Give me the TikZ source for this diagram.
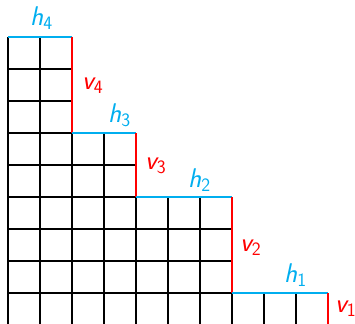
\documentclass[tikz,border=0pt]{standalone}
\definecolor{hblue}{RGB}{0,174,239}
\definecolor{vred}{RGB}{255,0,0}
\begin{document}
\begin{tikzpicture}[x=1pt,y=-1pt,
  gridline/.style={black,line width=1.2pt},
  hseg/.style={hblue,line width=2.6pt},
  vseg/.style={vred,line width=2.6pt},
  lab/.style={inner sep=0pt,anchor=base west,font=\fontsize{27}{30}\selectfont\sffamily},
  hlab/.style={lab,text=hblue},
  vlab/.style={lab,text=vred}]
\useasboundingbox (0,0) rectangle (355,323);
% grid: columns x=8+32k, rows y=37+32r, bottom cut at 323
\foreach \k/\t in {0/37,1/37,2/37,3/133,4/133,5/197,6/197,7/197,8/293,9/293,10/293}{
  \pgfmathsetmacro{\xx}{8+32*\k}
  \draw[gridline] (\xx,\t) -- (\xx,326);
}
\foreach \r/\e in {1/72,2/72,3/136,4/136,5/232,6/232,7/232,8/328}{
  \pgfmathsetmacro{\yy}{37+32*\r}
  \draw[gridline] (8,\yy) -- (\e,\yy);
}
% staircase corners
\coordinate (p0) at (8,37);
\coordinate (p1) at (72,37);
\coordinate (p2) at (72,133);
\coordinate (p3) at (136,133);
\coordinate (p4) at (136,197);
\coordinate (p5) at (232,197);
\coordinate (p6) at (232,293);
\coordinate (p7) at (328,293);
\coordinate (p8) at (328,326);
\draw[hseg] (p0) -- (p1);
\draw[vseg] (p1) -- (p2);
\draw[hseg] (p2) -- (p3);
\draw[vseg] (p3) -- (p4);
\draw[hseg] (p4) -- (p5);
\draw[vseg] (p5) -- (p6);
\draw[hseg] (p6) -- (p7);
\draw[vseg] (p7) -- (p8);
% labels
\node[hlab] (h4) at (30,26) {{\slshape h}\textsubscript{4}};
\node[vlab] (v4) at (82,90) {{\slshape v}\textsubscript{4}};
\node[hlab] (h3) at (108,122) {{\slshape h}\textsubscript{3}};
\node[vlab] (v3) at (145,169) {{\slshape v}\textsubscript{3}};
\node[hlab] (h2) at (188,187) {{\slshape h}\textsubscript{2}};
\node[vlab] (v2) at (240,251) {{\slshape v}\textsubscript{2}};
\node[hlab] (h1) at (284,282) {{\slshape h}\textsubscript{1}};
\node[vlab] (v1) at (335,312) {{\slshape v}\textsubscript{1}};
\end{tikzpicture}
\end{document}
